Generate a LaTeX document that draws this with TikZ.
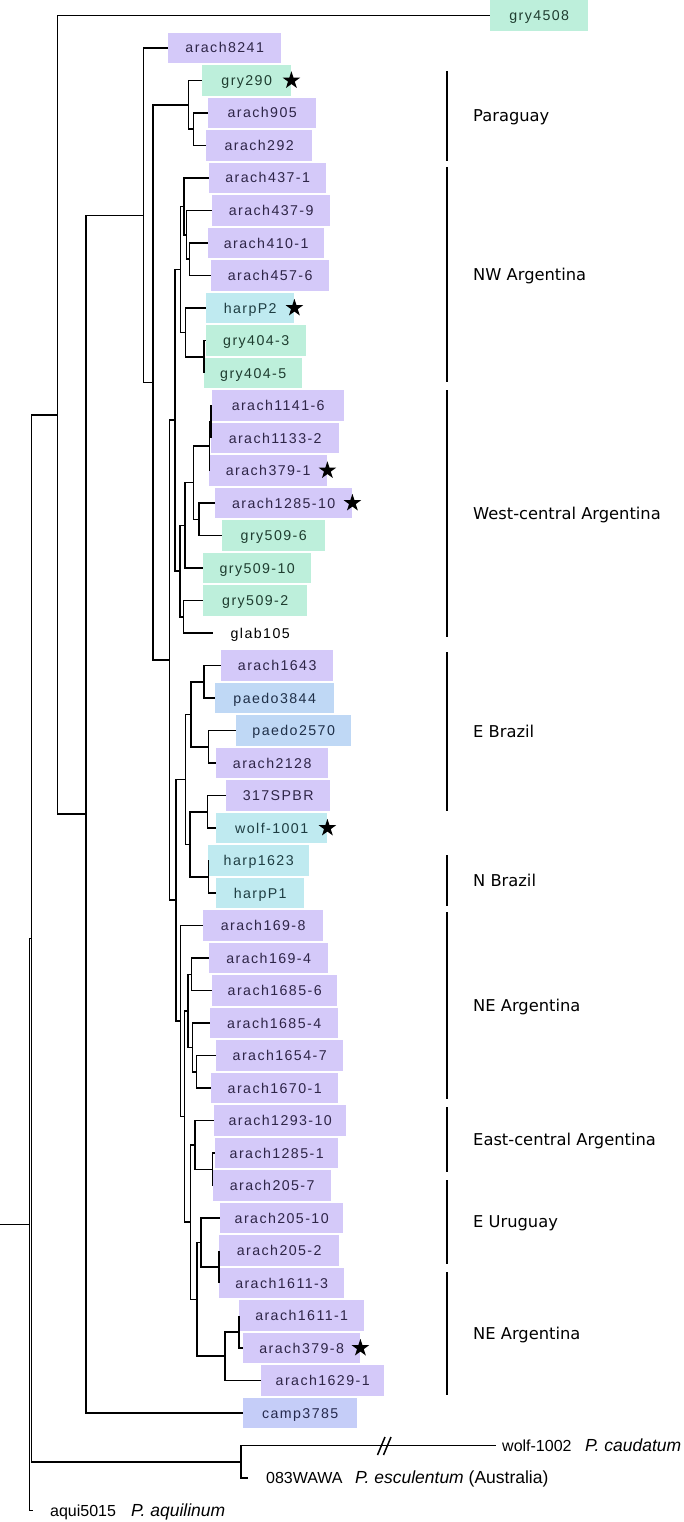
\documentclass[tikz,border=0pt]{standalone}
\usepackage{fontspec}
\setmainfont{Liberation Sans}
\newfontfamily\boxfont[LetterSpace=10]{Liberation Sans}
\newfontfamily\regfont{DejaVu Sans}
\usetikzlibrary{shapes.geometric}
\definecolor{lavfill}{HTML}{D4C9F9}
\definecolor{lavtext}{HTML}{2E2547}
\definecolor{mintfill}{HTML}{BDEFDB}
\definecolor{minttext}{HTML}{1F3D30}
\definecolor{cyanfill}{HTML}{BFEAF0}
\definecolor{cyantext}{HTML}{1E3D42}
\definecolor{bluefill}{HTML}{BFD8F5}
\definecolor{bluetext}{HTML}{1F2F48}
\definecolor{perifill}{HTML}{C5CDF8}
\definecolor{peritext}{HTML}{262A4D}
\tikzset{
  leafbox/.style={anchor=west, minimum height=30.5pt, inner sep=0pt,
    text height=10pt, text depth=0pt, font=\fontsize{14.2}{16}\selectfont\boxfont},
  arach/.style={leafbox, fill=lavfill, text=lavtext},
  gry/.style={leafbox, fill=mintfill, text=minttext},
  harp/.style={leafbox, fill=cyanfill, text=cyantext},
  paedo/.style={leafbox, fill=bluefill, text=bluetext},
  camp/.style={leafbox, fill=perifill, text=peritext},
  plain/.style={leafbox, text=black},
  branch/.style={line width=1.5pt, black},
  regionbar/.style={line width=2.6pt, black},
  regionlabel/.style={anchor=west, inner sep=0pt, text height=11.8pt, text depth=0pt,
    font=\fontsize{16.3}{19}\selectfont\regfont},
  codelabel/.style={anchor=west, inner sep=0pt, text height=11.5pt, text depth=0pt,
    font=\fontsize{16}{19}\selectfont},
  splabel/.style={anchor=west, inner sep=0pt, text height=11.5pt, text depth=0pt,
    font=\fontsize{17.5}{20}\selectfont},
  starmark/.style={star, star points=5, star point ratio=2.6, fill=black,
    inner sep=0pt, minimum size=18.5pt},
}
\begin{document}
\begin{tikzpicture}[x=1pt, y=-1pt]
\useasboundingbox (0,0) rectangle (684,1522);

% leaves
\node[gry,   minimum width=98pt]  (g4508)   at (490,15.5)  {gry4508};
\node[arach, minimum width=113pt] (a8241)   at (168,48)    {arach8241};
\node[gry,   minimum width=89pt]  (g290)    at (202,80.5)  {gry290};
\node[arach, minimum width=108pt] (a905)    at (208,113)   {arach905};
\node[arach, minimum width=106pt] (a292)    at (206,145.5) {arach292};
\node[arach, minimum width=117pt] (a437x1)  at (209,178)   {arach437-1};
\node[arach, minimum width=118pt] (a437x9)  at (212,210.5) {arach437-9};
\node[arach, minimum width=116pt] (a410x1)  at (208,243)   {arach410-1};
\node[arach, minimum width=118pt] (a457x6)  at (211,275.5) {arach457-6};
\node[harp,  minimum width=88pt]  (hP2)     at (206,308)   {harpP2};
\node[gry,   minimum width=100pt] (g404x3)  at (206,340.5) {gry404-3};
\node[gry,   minimum width=98pt]  (g404x5)  at (204,373)   {gry404-5};
\node[arach, minimum width=132pt] (a1141)   at (212,405.5) {arach1141-6};
\node[arach, minimum width=128pt] (a1133)   at (211,438)   {arach1133-2};
\node[arach, minimum width=118pt] (a379x1)  at (209,470.5) {arach379-1};
\node[arach, minimum width=137pt] (a1285x10) at (215,503)  {arach1285-10};
\node[gry,   minimum width=103pt] (g509x6)  at (222,535.5) {gry509-6};
\node[gry,   minimum width=108pt] (g509x10) at (203,568)   {gry509-10};
\node[gry,   minimum width=104pt] (g509x2)  at (203,600.5) {gry509-2};
\node[plain, minimum width=94pt]  (glab)    at (213,633)   {glab105};
\node[arach, minimum width=112pt] (a1643)   at (221,665.5) {arach1643};
\node[paedo, minimum width=119pt] (p3844)   at (215,698)   {paedo3844};
\node[paedo, minimum width=115pt] (p2570)   at (236,730.5) {paedo2570};
\node[arach, minimum width=112pt] (a2128)   at (216,763)   {arach2128};
\node[arach, minimum width=104pt] (s317)    at (226,795.5) {317SPBR};
\node[harp,  minimum width=111pt] (w1001)   at (216,828)   {wolf-1001};
\node[harp,  minimum width=101pt] (h1623)   at (208,860.5) {harp1623};
\node[harp,  minimum width=88pt]  (hP1)     at (216,893)   {harpP1};
\node[arach, minimum width=120pt] (a169x8)  at (203,925.5) {arach169-8};
\node[arach, minimum width=119pt] (a169x4)  at (209,958)   {arach169-4};
\node[arach, minimum width=125pt] (a1685x6) at (212,990.5) {arach1685-6};
\node[arach, minimum width=128pt] (a1685x4) at (210,1023)  {arach1685-4};
\node[arach, minimum width=127pt] (a1654)   at (216,1055.5) {arach1654-7};
\node[arach, minimum width=127pt] (a1670)   at (211,1088)  {arach1670-1};
\node[arach, minimum width=132pt] (a1293)   at (214,1120.5) {arach1293-10};
\node[arach, minimum width=123pt] (a1285x1) at (215,1153)  {arach1285-1};
\node[arach, minimum width=118pt] (a205x7)  at (213,1185.5) {arach205-7};
\node[arach, minimum width=123pt] (a205x10) at (220,1218)  {arach205-10};
\node[arach, minimum width=120pt] (a205x2)  at (219,1250.5) {arach205-2};
\node[arach, minimum width=125pt] (a1611x3) at (219,1283)  {arach1611-3};
\node[arach, minimum width=125pt] (a1611x1) at (239,1315.5) {arach1611-1};
\node[arach, minimum width=117pt] (a379x8)  at (243,1348)  {arach379-8};
\node[arach, minimum width=123pt] (a1629)   at (261,1380.5) {arach1629-1};
\node[camp,  minimum width=114pt] (c3785)   at (243,1413)  {camp3785};

% outgroup tips
\coordinate (wolfend) at (495.6,1445.5);
\coordinate (w083end) at (248,1478);
\coordinate (aquiend) at (32.8,1510.5);
\node[codelabel] (w1002lab) at (502,1445.5) {wolf-1002};
\node[splabel]   (caudlab)  at (585,1445.5) {\itshape P. caudatum};
\node[codelabel] (w083lab)  at (266,1478) {083WAWA};
\node[splabel]   (esclab)   at (355,1478) {\itshape P. esculentum\/ \upshape(Australia)};
\node[codelabel] (aquilab)  at (50,1510.5) {aqui5015};
\node[splabel]   (aqsplab)  at (131,1510.5) {\itshape P. aquilinum};

% stars
\node[starmark] (st1) at (g290.east) {};
\node[starmark] (st2) at (hP2.east) {};
\node[starmark] (st3) at (a379x1.east) {};
\node[starmark] (st4) at (a1285x10.east) {};
\node[starmark] (st5) at (w1001.east) {};
\node[starmark] (st6) at (a379x8.east) {};

% internal nodes
\coordinate (rootstart) at (0,1224.4);
\coordinate (root) at (29.5,1224.4);
\coordinate (n32)  at (31.7,938.3);
\coordinate (nWW)  at (241,1461.75);
\coordinate (n57)  at (57.5,414.8);
\coordinate (n86)  at (86,814.13);
\coordinate (n143) at (143.3,215.26);
\coordinate (n153) at (152.8,382.52);
\coordinate (n188) at (188.3,104.875);
\coordinate (n193) at (193.3,129.25);
\coordinate (n170) at (169.7,660.17);
\coordinate (n175) at (175,420.23);
\coordinate (nD)   at (180.7,269.41);
\coordinate (nC)   at (184,206.44);
\coordinate (nB)   at (186.7,234.875);
\coordinate (nA)   at (189.3,259.25);
\coordinate (nE)   at (185.7,332.375);
\coordinate (nF)   at (204,356.75);
\coordinate (nG)   at (180,571.05);
\coordinate (n526) at (185,525.34);
\coordinate (nH)   at (193.3,482.69);
\coordinate (nL)   at (209.3,446.125);
\coordinate (nK)   at (211,421.75);
\coordinate (n519) at (199,519.25);
\coordinate (n617) at (183.3,616.75);
\coordinate (n176) at (176,900.11);
\coordinate (nM)   at (185.7,779.25);
\coordinate (n715) at (191,714.25);
\coordinate (n682) at (204,681.75);
\coordinate (n747) at (208.3,746.75);
\coordinate (n845) at (190,844.25);
\coordinate (n812) at (207.3,811.75);
\coordinate (n877) at (208.3,876.75);
\coordinate (nN)   at (180.3,1020.97);
\coordinate (nO)   at (184.3,1116.44);
\coordinate (nR)   at (188,1010.81);
\coordinate (nR1)  at (191.7,974.25);
\coordinate (nP)   at (192.5,1047.375);
\coordinate (nQ)   at (196.7,1071.75);
\coordinate (nZ)   at (190.7,1222.06);
\coordinate (nY)   at (195,1144.875);
\coordinate (nU)   at (212.3,1169.25);
\coordinate (n1300) at (197,1299.25);
\coordinate (n1242) at (201,1242.375);
\coordinate (nV)   at (219,1266.75);
\coordinate (nW)   at (225,1356.125);
\coordinate (nX)   at (239,1331.75);

% branches
\draw[branch] (rootstart) -- (root);
\foreach \p/\c in {root/n32, root/aquiend, n32/n57, n32/nWW, nWW/wolfend, nWW/w083end,
  n57/g4508, n57/n86, n86/n143, n86/c3785, n143/a8241, n143/n153,
  n153/n188, n153/n170, n188/g290, n188/n193, n193/a905, n193/a292,
  n170/n175, n170/n176, n175/nD, n175/nG, nD/nC, nD/nE, nC/a437x1, nC/nB,
  nB/a437x9, nB/nA, nA/a410x1, nA/a457x6, nE/hP2, nE/nF, nF/g404x3, nF/g404x5,
  nG/n526, nG/n617, n526/nH, n526/g509x10, nH/nL, nH/n519, nL/nK, nL/a379x1,
  nK/a1141, nK/a1133, n519/a1285x10, n519/g509x6, n617/g509x2, n617/glab,
  n176/nM, n176/nN, nM/n715, nM/n845, n715/n682, n715/n747, n682/a1643, n682/p3844,
  n747/p2570, n747/a2128, n845/n812, n845/n877, n812/s317, n812/w1001,
  n877/h1623, n877/hP1, nN/a169x8, nN/nO, nO/nR, nO/nZ, nR/nR1, nR/nP,
  nR1/a169x4, nR1/a1685x6, nP/a1685x4, nP/nQ, nQ/a1654, nQ/a1670,
  nZ/nY, nZ/n1300, nY/a1293, nY/nU, nU/a1285x1, nU/a205x7,
  n1300/n1242, n1300/nW, n1242/a205x10, n1242/nV, nV/a205x2, nV/a1611x3,
  nW/nX, nW/a1629, nX/a1611x1, nX/a379x8}
  \draw[branch] (\p) |- (\c.west);

% break marks on long branch
\draw[branch] (377.5,1455) -- (385,1437);
\draw[branch] (383.5,1455) -- (391,1437);

% region bars and labels
\draw[regionbar] (447,71) -- (447,161.5);
\draw[regionbar] (447,167) -- (447,382);
\draw[regionbar] (447,390) -- (447,637);
\draw[regionbar] (447,652) -- (447,811);
\draw[regionbar] (447,855) -- (447,906);
\draw[regionbar] (447,912) -- (447,1099);
\draw[regionbar] (447,1107) -- (447,1172);
\draw[regionbar] (447,1180) -- (447,1264);
\draw[regionbar] (447,1272) -- (447,1395);
\node[regionlabel] (r1) at (473,116) {Paraguay};
\node[regionlabel] (r2) at (473,274.5) {NW Argentina};
\node[regionlabel] (r3) at (473,514) {West-central Argentina};
\node[regionlabel] (r4) at (473,731.5) {E Brazil};
\node[regionlabel] (r5) at (473,880.5) {N Brazil};
\node[regionlabel] (r6) at (473,1005.5) {NE Argentina};
\node[regionlabel] (r7) at (473,1139.5) {East-central Argentina};
\node[regionlabel] (r8) at (473,1222) {E Uruguay};
\node[regionlabel] (r9) at (473,1333.5) {NE Argentina};
\end{tikzpicture}
\end{document}
